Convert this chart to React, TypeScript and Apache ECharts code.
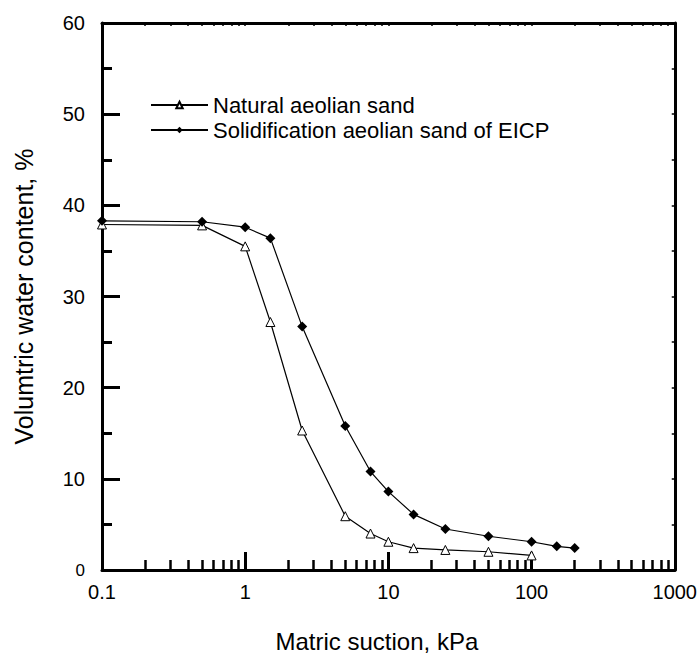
import React, { useEffect, useRef } from "react";
import * as echarts from "echarts";

const suctionNatural = [0.1, 0.5, 1, 1.5, 2.5, 5, 7.5, 10, 15, 25, 50, 100];
const waterNatural = [37.9, 37.8, 35.5, 27.2, 15.3, 5.9, 4.0, 3.1, 2.4, 2.2, 2.0, 1.6];
const suctionSolid = [0.1, 0.5, 1, 1.5, 2.5, 5, 7.5, 10, 15, 25, 50, 100, 150, 200];
const waterSolid = [38.3, 38.2, 37.6, 36.4, 26.7, 15.8, 10.8, 8.6, 6.1, 4.5, 3.7, 3.1, 2.6, 2.4];
const seriesNames = ["Natural aeolian sand", "Solidification aeolian sand of EICP"];
const minorMultipliers = [2, 3, 4, 5, 6, 7, 8, 9];
const decades = [0.1, 1, 10, 100];

const FONT = "'Liberation Sans', Arial, sans-serif";

export default function App() {
  const ref = useRef<HTMLDivElement>(null);
  useEffect(() => {
    if (!ref.current) return;
    const chart = echarts.init(ref.current, null, { renderer: "svg" });
    const minorLog: number[] = [];
    decades.forEach((d) => minorMultipliers.forEach((m) => minorLog.push(Math.log10(d * m))));
    const allLog: number[] = [];
    decades.forEach((d) => [1, ...minorMultipliers].forEach((m) => allLog.push(Math.log10(d * m))));
    allLog.push(3);
    const pairs = (xs: number[], ys: number[]) => xs.map((x, i) => [x, ys[i]]);
    chart.setOption({
      animation: false,
      textStyle: { fontFamily: FONT, color: "#000" },
      grid: { left: 102, right: 25, top: 23, bottom: 77, containLabel: false },
      legend: {
        orient: "vertical",
        left: 150,
        top: 94,
        padding: 0,
        itemWidth: 57,
        itemHeight: 8,
        itemGap: 3,
        textStyle: { fontSize: 22, color: "#000", fontFamily: FONT },
        data: seriesNames,
      },
      xAxis: [
        {
          type: "log",
          logBase: 10,
          min: 0.1,
          max: 1000,
          position: "bottom",
          name: "Matric suction, kPa",
          nameLocation: "middle",
          nameGap: 59,
          nameTextStyle: { fontSize: 24, color: "#000", fontFamily: FONT, padding: [0, 23, 0, 0] },
          axisLine: { onZero: false, lineStyle: { color: "#000", width: 3 } },
          axisTick: { inside: true, length: 18, lineStyle: { width: 3, color: "#000" } },
          axisLabel: {
            fontSize: 20,
            color: "#000",
            fontFamily: FONT,
            margin: 12,
            formatter: (v: number) => String(v),
          },
          splitLine: { show: false },
          minorTick: { show: false },
        },
        {
          type: "value",
          min: -1,
          max: 3,
          position: "bottom",
          axisLine: { show: false, onZero: false },
          axisLabel: { show: false },
          splitLine: { show: false },
          axisTick: {
            inside: true,
            length: 10,
            customValues: minorLog,
            lineStyle: { width: 2.5, color: "#000" },
          },
        },
        {
          type: "value",
          min: -1,
          max: 3,
          position: "top",
          axisLine: { show: true, onZero: false, lineStyle: { color: "#000", width: 3 } },
          axisLabel: { show: false },
          splitLine: { show: false },
          axisTick: {
            inside: true,
            length: 3,
            customValues: allLog,
            lineStyle: { width: 1.5, color: "#000" },
          },
        },
      ],
      yAxis: [
        {
          type: "value",
          min: 0,
          max: 60,
          interval: 10,
          position: "left",
          name: "Volumtric water content, %",
          nameLocation: "middle",
          nameGap: 66,
          nameTextStyle: { fontSize: 25, color: "#000", fontFamily: FONT },
          axisLine: { show: true, onZero: false, lineStyle: { color: "#000", width: 3 } },
          axisTick: { inside: true, length: 18, lineStyle: { width: 3, color: "#000" } },
          minorTick: { show: true, splitNumber: 2, length: 10, lineStyle: { width: 3, color: "#000" } },
          axisLabel: {
            fontSize: 20,
            color: "#000",
            fontFamily: FONT,
            margin: 17,
            formatter: (v: number) => (v === 0 ? "{s|0}" : String(v)),
            rich: { s: { fontSize: 17, fontFamily: FONT, color: "#000" } },
          },
          splitLine: { show: false },
        },
        {
          type: "value",
          min: 0,
          max: 60,
          interval: 5,
          position: "right",
          axisLine: { show: true, onZero: false, lineStyle: { color: "#000", width: 3 } },
          axisTick: { inside: true, length: 3, lineStyle: { width: 1.5, color: "#000" } },
          axisLabel: { show: false },
          splitLine: { show: false },
        },
      ],
      series: [
        {
          name: seriesNames[0],
          type: "line",
          xAxisIndex: 0,
          yAxisIndex: 0,
          data: pairs(suctionNatural, waterNatural),
          symbol: "triangle",
          symbolSize: 9,
          showAllSymbol: true,
          lineStyle: { color: "#000", width: 1.2 },
          itemStyle: { color: "#fff", borderColor: "#000", borderWidth: 1 },
          z: 3,
        },
        {
          name: seriesNames[1],
          type: "line",
          xAxisIndex: 0,
          yAxisIndex: 0,
          data: pairs(suctionSolid, waterSolid),
          symbol: "diamond",
          symbolSize: 10,
          showAllSymbol: true,
          lineStyle: { color: "#000", width: 1.2 },
          itemStyle: { color: "#000", borderColor: "#000", borderWidth: 0 },
          z: 4,
        },
      ],
    });
    return () => chart.dispose();
  }, []);
  return (
    <div
      ref={ref}
      style={{ position: "fixed", left: 0, top: 0, width: 700, height: 658, background: "#fff" }}
    />
  );
}
